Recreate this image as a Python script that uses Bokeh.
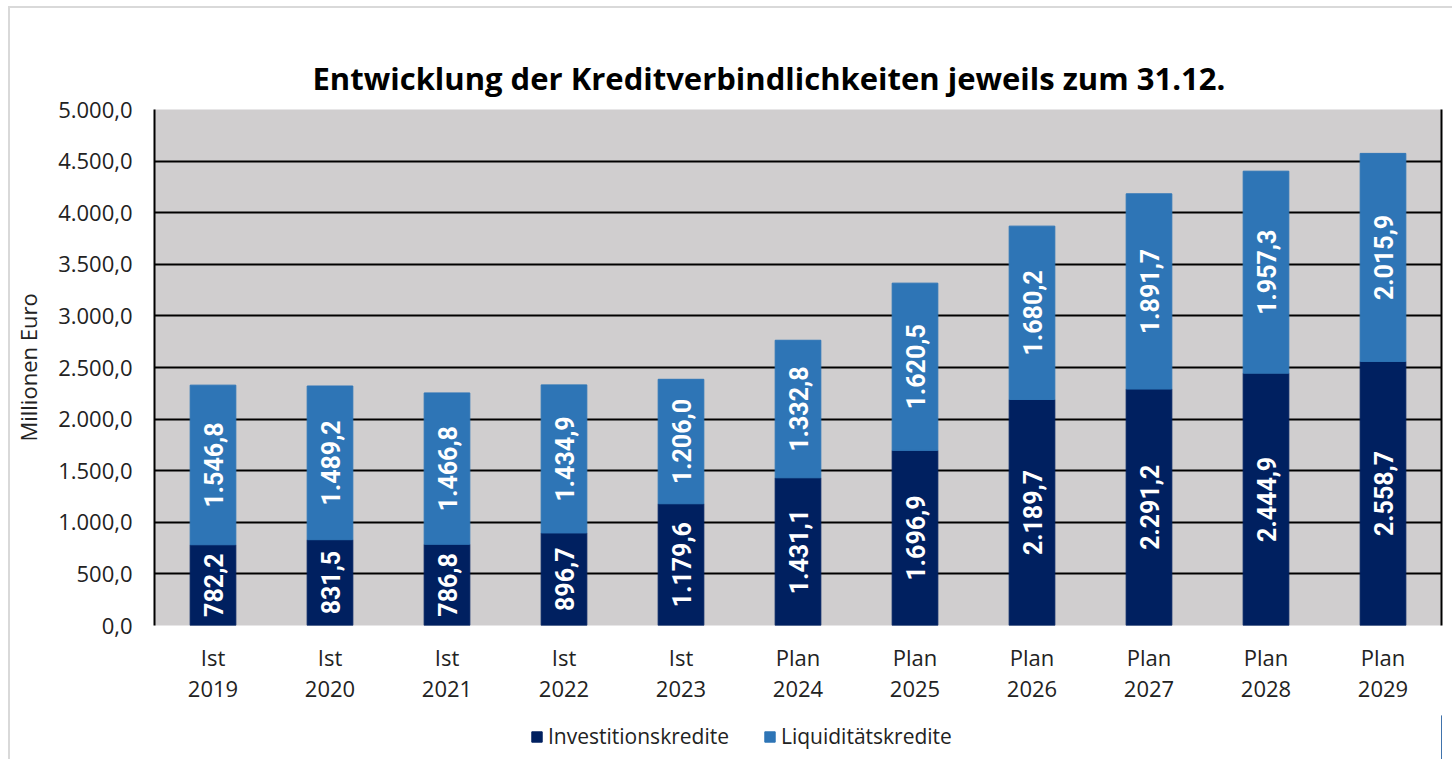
from bokeh.plotting import figure
from bokeh.layouts import column
from bokeh.models import FixedTicker, LinearAxis, Legend, LegendItem, ColumnDataSource, Range1d
from bokeh.core.properties import value
from bokeh.embed import file_html
from bokeh.resources import INLINE
import math

categories = ["Ist\n2019", "Ist\n2020", "Ist\n2021", "Ist\n2022", "Ist\n2023", "Plan\n2024",
              "Plan\n2025", "Plan\n2026", "Plan\n2027", "Plan\n2028", "Plan\n2029"]
investitionskredite = [782.2, 831.5, 786.8, 896.7, 1179.6, 1431.1, 1696.9, 2189.7, 2291.2, 2444.9, 2558.7]
liquiditaetskredite = [1546.8, 1489.2, 1466.8, 1434.9, 1206.0, 1332.8, 1620.5, 1680.2, 1891.7, 1957.3, 2015.9]
y_ticks = [0, 500, 1000, 1500, 2000, 2500, 3000, 3500, 4000, 4500, 5000]
y_tick_labels = ["0,0", "500,0", "1.000,0", "1.500,0", "2.000,0", "2.500,0", "3.000,0",
                 "3.500,0", "4.000,0", "4.500,0", "5.000,0"]
title_text = "Entwicklung der Kreditverbindlichkeiten jeweils zum 31.12."
series_names = ["Investitionskredite", "Liquiditätskredite"]
colors = ["#002060", "#2E75B6"]


def de(v):
    s = f"{v:,.1f}"
    return s.replace(",", "X").replace(".", ",").replace("X", ".")


src = ColumnDataSource(dict(
    cat=categories,
    inv=investitionskredite,
    liq=liquiditaetskredite,
    tot=[a + b for a, b in zip(investitionskredite, liquiditaetskredite)],
    inv_mid=[a / 2 for a in investitionskredite],
    liq_mid=[a + b / 2 for a, b in zip(investitionskredite, liquiditaetskredite)],
    inv_lab=[de(a) for a in investitionskredite],
    liq_lab=[de(b) for b in liquiditaetskredite],
))

p = figure(x_range=categories, y_range=Range1d(0, 5000), frame_width=1287, frame_height=516,
           output_backend="svg", toolbar_location=None,
           min_border_left=144, min_border_right=11, min_border_top=101, min_border_bottom=90)

p.background_fill_color = "#D0CECF"
p.border_fill_color = "white"
p.outline_line_color = None

p.title.text = title_text
p.title.align = "left"
p.title.text_font = "Open Sans"
p.title.text_font_size = "31px"
p.title.text_font_style = "bold"
p.title.text_color = "black"
p.title.standoff = 22
p.title.offset = 158

r1 = p.vbar(x="cat", top="inv", bottom=0, width=0.39, color=colors[0], source=src)
r2 = p.vbar(x="cat", top="tot", bottom="inv", width=0.39, color=colors[1], source=src)

for ycol, lcol in (("inv_mid", "inv_lab"), ("liq_mid", "liq_lab")):
    p.text(x="cat", y=ycol, text=lcol, source=src, angle=math.pi / 2,
           text_align="center", text_baseline="middle", text_color="white",
           text_font=value("Roboto"), text_font_style="bold", text_font_size="25px")

# grid
p.xgrid.grid_line_color = None
p.ygrid.grid_line_color = "black"
p.ygrid.grid_line_width = 2
p.ygrid.ticker = FixedTicker(ticks=y_ticks)

# y axis
p.yaxis.ticker = FixedTicker(ticks=y_ticks)
p.yaxis.major_label_overrides = {t: l for t, l in zip(y_ticks, y_tick_labels)}
p.yaxis.axis_line_color = "black"
p.yaxis.axis_line_width = 2
p.yaxis.major_tick_line_color = None
p.yaxis.minor_tick_line_color = None
p.yaxis.major_label_text_font = "Open Sans"
p.yaxis.major_label_text_font_size = "22px"
p.yaxis.major_label_text_color = "#222222"
p.yaxis.major_label_standoff = 16
p.yaxis.axis_label = "Millionen Euro"
p.yaxis.axis_label_text_font = "Open Sans"
p.yaxis.axis_label_text_font_size = "22px"
p.yaxis.axis_label_text_font_style = "normal"
p.yaxis.axis_label_text_color = "#222222"
p.yaxis.axis_label_standoff = 12

right_axis = LinearAxis(ticker=FixedTicker(ticks=[]), axis_line_color="black", axis_line_width=2,
                        major_tick_line_color=None, minor_tick_line_color=None,
                        major_label_text_font_size="0px")
p.add_layout(right_axis, "right")

# x axis
p.xaxis.axis_line_color = None
p.xaxis.major_tick_line_color = None
p.xaxis.minor_tick_line_color = None
p.xaxis.major_tick_out = 0
p.xaxis.major_tick_in = 0
p.xaxis.major_label_text_font = "Open Sans"
p.xaxis.major_label_text_font_size = "22px"
p.xaxis.major_label_text_color = "#222222"
p.xaxis.major_label_text_line_height = 1.05
p.xaxis.major_label_standoff = 16

# legend in its own strip below the chart (legend swatches use off-screen proxy bars)
p2 = figure(width=1442, height=44, x_range=Range1d(0, 1), y_range=Range1d(0, 1),
            output_backend="svg", toolbar_location=None,
            x_axis_location=None, y_axis_location=None,
            min_border_left=0, min_border_right=0, min_border_top=0, min_border_bottom=0)
p2.outline_line_color = None
p2.grid.grid_line_color = None
p2.background_fill_color = "white"
p2.border_fill_color = "white"
d1 = p2.vbar(x=[5], top=[1], width=0.1, color=colors[0])
d2 = p2.vbar(x=[5], top=[1], width=0.1, color=colors[1])

legend = Legend(items=[LegendItem(label=series_names[0], renderers=[d1]),
                       LegendItem(label=series_names[1], renderers=[d2])],
                orientation="horizontal", location=(376, 9))
legend.label_text_font = "Open Sans"
legend.label_text_font_size = "21px"
legend.label_text_color = "#222222"
legend.glyph_width = 13
legend.glyph_height = 13
legend.label_standoff = 5
legend.spacing = 34
legend.border_line_color = None
legend.background_fill_alpha = 0
legend.padding = 0
legend.margin = 0
p2.add_layout(legend)

layout = column(p, p2, spacing=0)
layout.styles = {"margin-left": "8px", "margin-top": "6px",
                 "border-left": "2px solid #D9D9D9", "border-top": "2px solid #D9D9D9"}

open("out.html", "w").write(file_html(layout, INLINE))
